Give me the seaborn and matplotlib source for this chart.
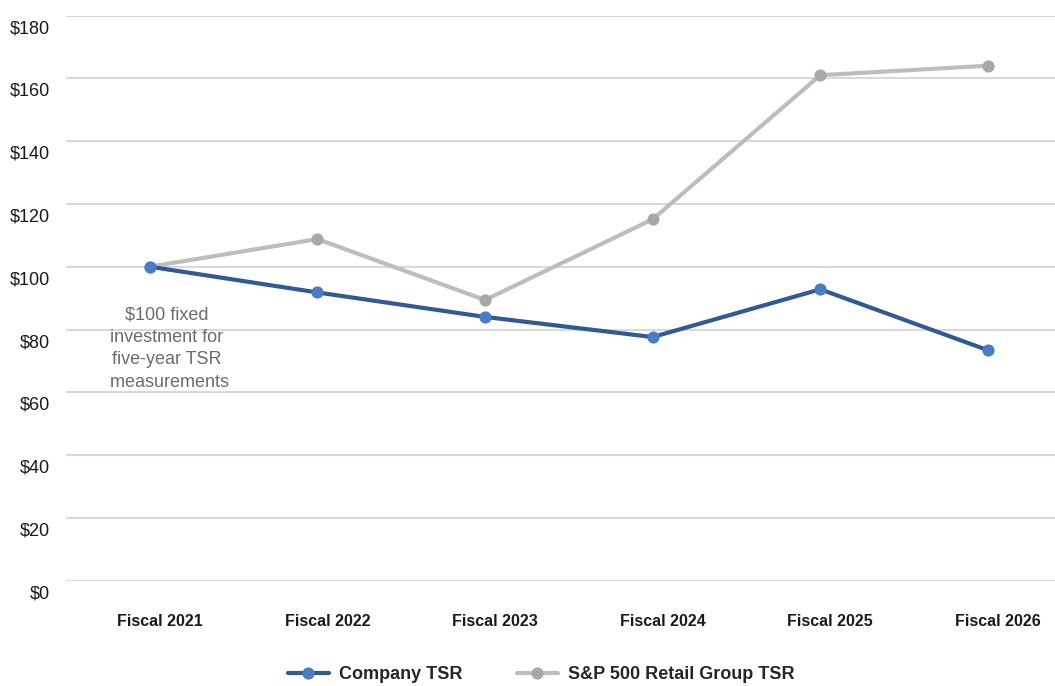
import pandas as pd
import matplotlib
matplotlib.use("Agg")
import matplotlib.pyplot as plt
import matplotlib.transforms as mtransforms
import seaborn as sns

years = ["Fiscal 2021", "Fiscal 2022", "Fiscal 2023", "Fiscal 2024", "Fiscal 2025", "Fiscal 2026"]
company_tsr = [100, 91.8, 84.0, 77.6, 92.8, 73.4]
retail_tsr = [100, 108.8, 89.4, 115.1, 161.0, 164.0]
y_ticks = [0, 20, 40, 60, 80, 100, 120, 140, 160, 180]

df = pd.DataFrame({"Year": years, "Company TSR": company_tsr, "S&P 500 Retail Group TSR": retail_tsr})

sns.set_style("white")
plt.rcParams["font.family"] = ["Liberation Sans", "DejaVu Sans"]

fig = plt.figure(figsize=(10.55, 6.86), dpi=100)
ax = fig.add_axes([66 / 1055, 0.1535, 1 - 66 / 1055, 0.9774 - 0.1535])

sns.lineplot(data=df, x="Year", y="Company TSR", ax=ax, color="#2F5A93", linewidth=3,
             marker="o", markersize=8, markerfacecolor="#4A7CC4", markeredgecolor="#4A7CC4",
             label="Company TSR", clip_on=False, zorder=4)
sns.lineplot(data=df, x="Year", y="S&P 500 Retail Group TSR", ax=ax, color="#BDBDBD", linewidth=3,
             marker="o", markersize=8, markerfacecolor="#A8A8A8", markeredgecolor="#A8A8A8",
             label="S&P 500 Retail Group TSR", clip_on=False, zorder=3)

ax.set_xlim(-0.5, 5.4)
ax.set_ylim(0, 180)
ax.set_yticks(y_ticks)
ax.set_yticklabels([f"${v}" for v in y_ticks], fontsize=13, color="#1a1a1a")
ax.grid(axis="y", color="#D9D9D9", linewidth=1.5)
ax.set_axisbelow(True)
sns.despine(ax=ax, left=True, bottom=True)
ax.tick_params(axis="both", length=0)
ax.tick_params(axis="y", pad=11.5)
ax.tick_params(axis="x", pad=24)
xshift = mtransforms.ScaledTranslation(0.10, 0, fig.dpi_scale_trans)
for lab in ax.get_xticklabels():
    lab.set_fontweight("bold")
    lab.set_fontsize(11.5)
    lab.set_color("#1a1a1a")
    lab.set_transform(lab.get_transform() + xshift)
yshift = mtransforms.ScaledTranslation(0, -0.11, fig.dpi_scale_trans)
for lab in ax.get_yticklabels():
    lab.set_transform(lab.get_transform() + yshift)
ax.set_xlabel("")
ax.set_ylabel("")

ax.text(0.1, 74, "$100 fixed\ninvestment for\nfive-year TSR\n measurements", ha="center", va="center",
        fontsize=13, color="#6B6B6B", linespacing=1.42)

# legend sits at the very bottom edge, nudged up just enough to stay inside
leg = ax.legend(loc="center", bbox_to_anchor=(0.513, 0.0165), bbox_transform=fig.transFigure,
                ncol=2, frameon=False, handlelength=2.3, handletextpad=0.55, columnspacing=3.0,
                borderpad=0.2, prop={"weight": "bold", "size": 13})

plt.savefig("out.png", dpi=100)
